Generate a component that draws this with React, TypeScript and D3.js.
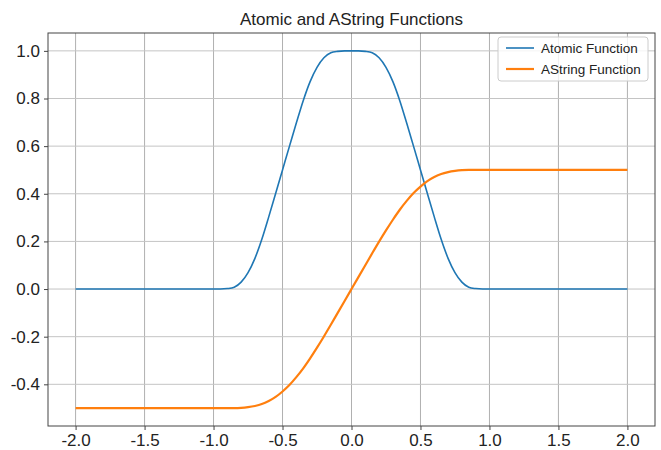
import React, { useEffect, useRef } from "react";
import * as d3 from "d3";

// sample points
const xValues = [
  -2.0, -1.0, -0.95, -0.9, -0.85, -0.8, -0.75, -0.7, -0.65, -0.6, -0.55, -0.5,
  -0.45, -0.4, -0.35, -0.3, -0.25, -0.2, -0.15, -0.1, -0.05, 0.0,
  0.05, 0.1, 0.15, 0.2, 0.25, 0.3, 0.35, 0.4, 0.45, 0.5,
  0.55, 0.6, 0.65, 0.7, 0.75, 0.8, 0.85, 0.9, 0.95, 1.0, 2.0,
];

const atomicValues = [
  0.0, 0.0, 0.0, 0.002, 0.008, 0.029, 0.069, 0.129, 0.209, 0.303, 0.401, 0.5,
  0.599, 0.697, 0.791, 0.871, 0.931, 0.971, 0.992, 0.998, 1.0, 1.0,
  1.0, 0.998, 0.992, 0.971, 0.931, 0.871, 0.791, 0.697, 0.599, 0.5,
  0.401, 0.303, 0.209, 0.129, 0.069, 0.029, 0.008, 0.002, 0.0, 0.0, 0.0,
];

const astringValues = [
  -0.5, -0.5, -0.5, -0.5, -0.5, -0.499, -0.496, -0.491, -0.483, -0.47, -0.453, -0.43,
  -0.403, -0.37, -0.333, -0.291, -0.246, -0.199, -0.15, -0.1, -0.05, 0.0,
  0.05, 0.1, 0.15, 0.199, 0.246, 0.291, 0.333, 0.37, 0.403, 0.43,
  0.453, 0.47, 0.483, 0.491, 0.496, 0.499, 0.5, 0.5, 0.5, 0.5, 0.5,
];

const seriesNames = ["Atomic Function", "AString Function"];
const seriesColors = ["#1f77b4", "#ff7f0e"];

const xTicks = [-2.0, -1.5, -1.0, -0.5, 0.0, 0.5, 1.0, 1.5, 2.0];
const yTicks = [-0.4, -0.2, 0.0, 0.2, 0.4, 0.6, 0.8, 1.0];

const title = "Atomic and AString Functions";

export default function App() {
  const ref = useRef<SVGSVGElement>(null);

  useEffect(() => {
    const W = 661, H = 450;
    const left = 48, right = 655, top = 33, bottom = 426;
    const font = "'Liberation Sans', Arial, sans-serif";

    const svg = d3.select(ref.current);
    svg.selectAll("*").remove();
    svg.attr("width", W).attr("height", H);

    svg.append("rect").attr("width", W).attr("height", H).attr("fill", "#fff");

    const x = d3.scaleLinear().domain([-2.2, 2.2]).range([left, right]);
    const y = d3.scaleLinear().domain([-0.575, 1.075]).range([bottom, top]);

    // grid
    const grid = svg.append("g");
    grid.selectAll(".gx").data(xTicks).enter().append("line")
      .attr("x1", d => x(d)).attr("x2", d => x(d))
      .attr("y1", top).attr("y2", bottom)
      .attr("stroke", "#b0b0b0").attr("stroke-width", 1);
    grid.selectAll(".gy").data(yTicks).enter().append("line")
      .attr("x1", left).attr("x2", right)
      .attr("y1", d => y(d)).attr("y2", d => y(d))
      .attr("stroke", "#c4c4c4").attr("stroke-width", 1);

    // lines
    const series = [atomicValues, astringValues];
    const line = d3.line<number>()
      .x((_, i) => x(xValues[i]))
      .y(d => y(d))
      .curve(d3.curveMonotoneX);

    series.forEach((vals, i) => {
      svg.append("path")
        .attr("d", line(vals))
        .attr("fill", "none")
        .attr("stroke", seriesColors[i])
        .attr("stroke-width", i === 0 ? 1.6 : 2.2);
    });

    // spines
    svg.append("rect")
      .attr("x", left).attr("y", top)
      .attr("width", right - left).attr("height", bottom - top)
      .attr("fill", "none").attr("stroke", "#444").attr("stroke-width", 1);

    // plain hyphen minus like the reference
    const fmt = (d: d3.NumberValue) => (+d).toFixed(1);

    // axes
    const xAxis = svg.append("g")
      .attr("transform", `translate(0,${bottom})`)
      .call(d3.axisBottom(x).tickValues(xTicks).tickFormat(fmt).tickSizeInner(4).tickSizeOuter(0).tickPadding(4));
    const yAxis = svg.append("g")
      .attr("transform", `translate(${left},0)`)
      .call(d3.axisLeft(y).tickValues(yTicks).tickFormat(fmt).tickSizeInner(4).tickSizeOuter(0).tickPadding(4));

    [xAxis, yAxis].forEach(a => {
      a.select(".domain").remove();
      a.selectAll("line").attr("stroke", "#444");
      a.selectAll("text")
        .attr("fill", "#222")
        .style("font-family", font)
        .style("font-size", "17px");
    });

    // title
    svg.append("text")
      .attr("x", (left + right) / 2).attr("y", 25)
      .attr("text-anchor", "middle")
      .style("font-family", font).style("font-size", "17px")
      .attr("fill", "#222")
      .text(title);

    // legend
    const lg = svg.append("g").attr("transform", "translate(498,37)");
    lg.append("rect")
      .attr("width", 150).attr("height", 44).attr("rx", 3)
      .attr("fill", "#fff").attr("fill-opacity", 0.8)
      .attr("stroke", "#cccccc");
    seriesNames.forEach((name, i) => {
      const yy = 11 + i * 21;
      lg.append("line")
        .attr("x1", 8).attr("x2", 36).attr("y1", yy).attr("y2", yy)
        .attr("stroke", seriesColors[i]).attr("stroke-width", i === 0 ? 1.6 : 2.2);
      lg.append("text")
        .attr("x", 43).attr("y", yy + 5)
        .style("font-family", font).style("font-size", "13.5px")
        .attr("fill", "#222")
        .text(name);
    });
  }, []);

  return (
    <svg ref={ref} style={{ position: "absolute", left: 0, top: 0 }} />
  );
}
